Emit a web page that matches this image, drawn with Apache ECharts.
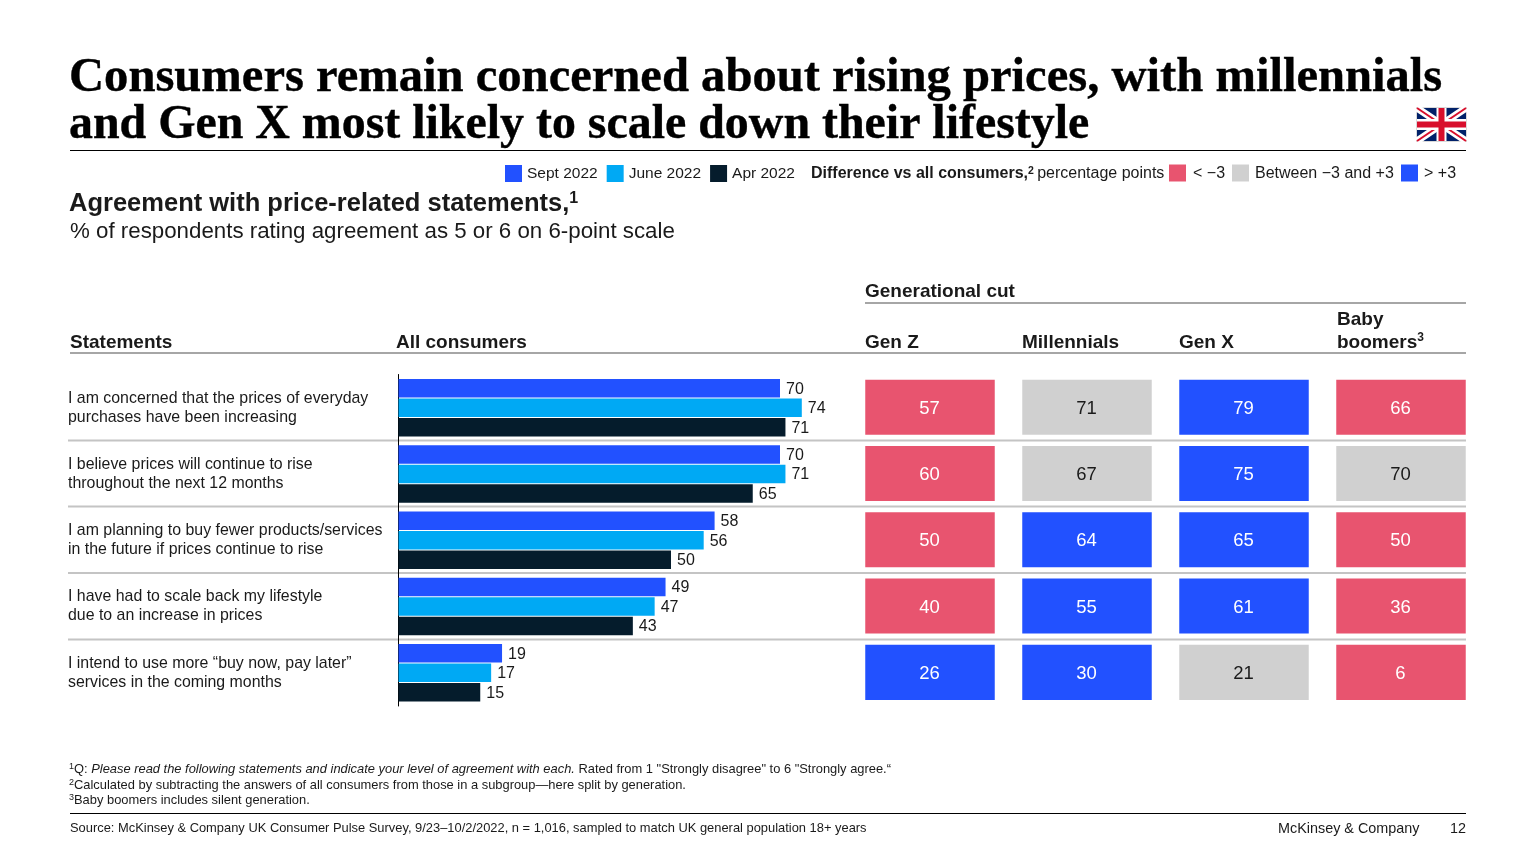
<!DOCTYPE html>
<html>
<head>
<meta charset="utf-8">
<style>html,body{margin:0;background:#fff}#chart{width:1536px;height:864px}</style>
<script src="https://cdn.jsdelivr.net/npm/echarts@6/dist/echarts.min.js"></script>
</head>
<body>
<div id="chart"></div>
<script>
const statements = [
  'I am concerned that the prices of everyday\npurchases have been increasing',
  'I believe prices will continue to rise\nthroughout the next 12 months',
  'I am planning to buy fewer products/services\nin the future if prices continue to rise',
  'I have had to scale back my lifestyle\ndue to an increase in prices',
  'I intend to use more “buy now, pay later”\nservices in the coming months'
]
const sept2022 = [70, 70, 58, 49, 19]
const june2022 = [74, 71, 56, 47, 17]
const apr2022 = [71, 65, 50, 43, 15]

const generations = ['Gen Z', 'Millennials', 'Gen X', 'Baby\nboomers{s|3}']
const genZ = [57, 60, 50, 40, 26]
const millennials = [71, 67, 64, 55, 30]
const genX = [79, 75, 65, 61, 21]
const boomers = [66, 70, 50, 36, 6]

const BLUE = '#2251ff'
const CYAN = '#00a9f4'
const NAVY = '#051c2c'
const RED = '#e8546f'
const GREY = '#d0d0d0'
const SANS = '"Liberation Sans", Arial, sans-serif'
const SERIF = '"Liberation Serif", Georgia, serif'
const INK = '#1a1a1a'

// 差值相对 Sept 2022 的全体消费者
function diffColor (value, row) {
  const diff = value - sept2022[row]
  if (diff < -3) return RED
  if (diff > 3) return BLUE
  return GREY
}

const heatData = []
;[genZ, millennials, genX, boomers].forEach((col, c) => {
  col.forEach((v, r) => heatData.push([c, r, v]))
})

function txt (x, y, text, size, extra) {
  return {
    type: 'text',
    silent: true,
    style: Object.assign({
      x,
      y,
      text,
      font: `${size}px ${SANS}`,
      fill: INK,
      textVerticalAlign: 'middle'
    }, extra || {})
  }
}

function titleLine (y, text, size) {
  return txt(69, y, text, size, {
    font: `bold ${size}px ${SERIF}`,
    fill: '#000',
    stroke: '#000',
    lineWidth: 0.4
  })
}

function rule (x1, x2, y, color, width) {
  return {
    type: 'line',
    silent: true,
    z: -10,
    shape: { x1, y1: y, x2, y2: y },
    style: { stroke: color, lineWidth: width }
  }
}

function swatch (x, y, color) {
  return { type: 'rect', silent: true, shape: { x, y, width: 17, height: 17 }, style: { fill: color } }
}

// 上标用小号字,顶对齐
function sup (size, weight) {
  return { fontSize: size, fontWeight: weight || 'normal', fontFamily: SANS, fill: INK, verticalAlign: 'top' }
}

// 英国国旗
function flag (x, y, w, h) {
  const r = x + w
  const b = y + h
  const cx = x + w / 2
  const cy = y + h / 2
  const seg = (x1, y1, x2, y2, stroke, lineWidth) => ({
    type: 'line', silent: true, shape: { x1, y1, x2, y2 }, style: { stroke, lineWidth }
  })
  return [
    { type: 'rect', silent: true, shape: { x: x - 1, y: y - 1, width: w + 2, height: h + 2 }, style: { fill: '#d9d9d9' } },
    { type: 'rect', silent: true, shape: { x, y, width: w, height: h }, style: { fill: '#012169' } },
    seg(x, y, r, b, '#fff', 7),
    seg(x, b, r, y, '#fff', 7),
    seg(x, y, r, b, '#d80f2c', 2),
    seg(x, b, r, y, '#d80f2c', 2),
    seg(cx, y, cx, b, '#fff', 10),
    seg(x, cy, r, cy, '#fff', 11),
    seg(cx, y, cx, b, '#d80f2c', 6),
    seg(x, cy, r, cy, '#d80f2c', 6)
  ]
}

const headers = [
  txt(70, 343, 'Statements', 19, { font: `bold 19px ${SANS}` }),
  txt(396, 343, 'All consumers', 19, { font: `bold 19px ${SANS}` }),
  txt(865, 292, 'Generational cut', 19, { font: `bold 19px ${SANS}` })
]
const headerX = [865, 1022, 1179, 1337]
generations.forEach((g, i) => {
  headers.push({
    type: 'text',
    silent: true,
    style: {
      x: headerX[i],
      y: 354,
      text: g,
      font: `bold 19px ${SANS}`,
      fill: INK,
      lineHeight: 22.5,
      textVerticalAlign: 'bottom',
      rich: { s: sup(12, 'bold') }
    }
  })
})

const footStyle = { fontSize: 12.9, fontFamily: SANS, fill: INK }
const footSup = sup(9)

const option = {
  animation: false,
  textStyle: { fontFamily: SANS },
  legend: {
    left: 505,
    top: 165,
    padding: 0,
    itemWidth: 17,
    itemHeight: 17,
    itemGap: 9,
    selectedMode: false,
    textStyle: { fontSize: 15.5, color: INK, fontFamily: SANS, padding: [2, 0, 0, 0] },
    data: ['Sept 2022', 'June 2022', 'Apr 2022'],
    icon: 'rect'
  },
  grid: [
    { left: 398.5, top: 374.5, width: 545, height: 331.5, containLabel: false },
    { left: 851.5, top: 374.5, width: 628, height: 331.5 }
  ],
  xAxis: [
    { type: 'value', gridIndex: 0, min: 0, max: 100, show: false },
    { type: 'category', gridIndex: 1, data: generations, show: false }
  ],
  yAxis: [
    {
      type: 'category',
      gridIndex: 0,
      inverse: true,
      data: statements,
      axisTick: { show: false },
      axisLine: { lineStyle: { color: '#000', width: 1 } },
      axisLabel: {
        align: 'left',
        margin: 330.5,
        fontSize: 15.9,
        lineHeight: 19,
        padding: [9, 0, 0, 0],
        color: INK,
        fontFamily: SANS
      }
    },
    { type: 'category', gridIndex: 1, inverse: true, data: statements, show: false }
  ],
  series: [
    { name: 'Sept 2022', data: sept2022, color: BLUE },
    { name: 'June 2022', data: june2022, color: CYAN },
    { name: 'Apr 2022', data: apr2022, color: NAVY }
  ].map(s => Object.assign(s, {
    type: 'bar',
    xAxisIndex: 0,
    yAxisIndex: 0,
    barWidth: 18.5,
    barGap: '5.5%',
    label: { show: true, position: 'right', distance: 6, offset: [0, 1], fontSize: 16, color: INK, fontFamily: SANS }
  })).concat([{
    type: 'custom',
    xAxisIndex: 1,
    yAxisIndex: 1,
    data: heatData,
    encode: { x: 0, y: 1 },
    renderItem: function (params, api) {
      const center = api.coord([api.value(0), api.value(1)])
      const band = api.size([1, 1])
      const w = band[0] - 27.5
      const h = band[1] - 11.25
      const color = diffColor(api.value(2), api.value(1))
      return {
        type: 'group',
        children: [
          { type: 'rect', shape: { x: center[0] - w / 2, y: center[1] - h / 2 - 0.5, width: w, height: h }, style: { fill: color } },
          {
            type: 'text',
            style: {
              x: center[0] - 0.5,
              y: center[1] + 1,
              text: String(api.value(2)),
              font: `18.5px ${SANS}`,
              fill: color === GREY ? INK : '#fff',
              textAlign: 'center',
              textVerticalAlign: 'middle'
            }
          }
        ]
      }
    }
  }]),
  graphic: {
    elements: [
      titleLine(78, 'Consumers remain concerned about rising prices, with millennials', 48.6),
      titleLine(126, 'and Gen X most likely to scale down their lifestyle', 47.9),
      rule(70, 1466, 150.5, '#000', 1),
      ...flag(1417, 108, 49, 33),

      {
        type: 'text',
        silent: true,
        style: {
          x: 811,
          y: 174,
          textVerticalAlign: 'middle',
          text: '{b|Difference vs all consumers,}{bs|2} {n|percentage points}',
          rich: {
            b: { font: `bold 16px ${SANS}`, fill: INK },
            bs: sup(10.5, 'bold'),
            n: { font: `16px ${SANS}`, fill: INK }
          }
        }
      },
      swatch(1169, 164.5, RED),
      txt(1193, 174, '< −3', 16),
      swatch(1232, 164.5, GREY),
      txt(1255, 174, 'Between −3 and +3', 16),
      swatch(1401, 164.5, BLUE),
      txt(1424, 174, '> +3', 16),

      {
        type: 'text',
        silent: true,
        style: {
          x: 69,
          y: 204,
          textVerticalAlign: 'middle',
          text: '{h|Agreement with price-related statements,}{s|1}',
          rich: {
            h: { font: `bold 25.5px ${SANS}`, fill: INK },
            s: sup(16, 'bold')
          }
        }
      },
      txt(70, 232, '% of respondents rating agreement as 5 or 6 on 6-point scale', 22.3),

      rule(865, 1466, 303, '#a6a6a6', 2),
      rule(70, 1466, 353, '#a6a6a6', 2),
      ...headers,

      rule(68, 1466, 440.5, '#c4c4c4', 2),
      rule(68, 1466, 506.5, '#c4c4c4', 2),
      rule(68, 1466, 573, '#c4c4c4', 2),
      rule(68, 1466, 639.5, '#c4c4c4', 2),

      {
        type: 'text',
        silent: true,
        style: {
          x: 69,
          y: 769,
          textVerticalAlign: 'middle',
          text: '{s|1}{n|Q: }{i|Please read the following statements and indicate your level of agreement with each.}{n| Rated from 1 "Strongly disagree" to 6 "Strongly agree.“}',
          rich: {
            n: footStyle,
            s: footSup,
            i: Object.assign({ fontStyle: 'italic' }, footStyle)
          }
        }
      },
      {
        type: 'text',
        silent: true,
        style: {
          x: 69,
          y: 785,
          textVerticalAlign: 'middle',
          text: '{s|2}{n|Calculated by subtracting the answers of all consumers from those in a subgroup—here split by generation.}',
          rich: { n: footStyle, s: footSup }
        }
      },
      {
        type: 'text',
        silent: true,
        style: {
          x: 69,
          y: 800,
          textVerticalAlign: 'middle',
          text: '{s|3}{n|Baby boomers includes silent generation.}',
          rich: { n: footStyle, s: footSup }
        }
      },
      rule(70, 1466, 813.5, '#000', 1),
      txt(70, 828, 'Source: McKinsey & Company UK Consumer Pulse Survey, 9/23–10/2/2022, n = 1,016, sampled to match UK general population 18+ years', 12.9),
      txt(1278, 829, 'McKinsey & Company', 14.4),
      txt(1466, 829, '12', 14.4, { textAlign: 'right' })
    ]
  }
}

const chart = echarts.init(document.getElementById('chart'))
chart.setOption(option)
</script>
</body>
</html>
